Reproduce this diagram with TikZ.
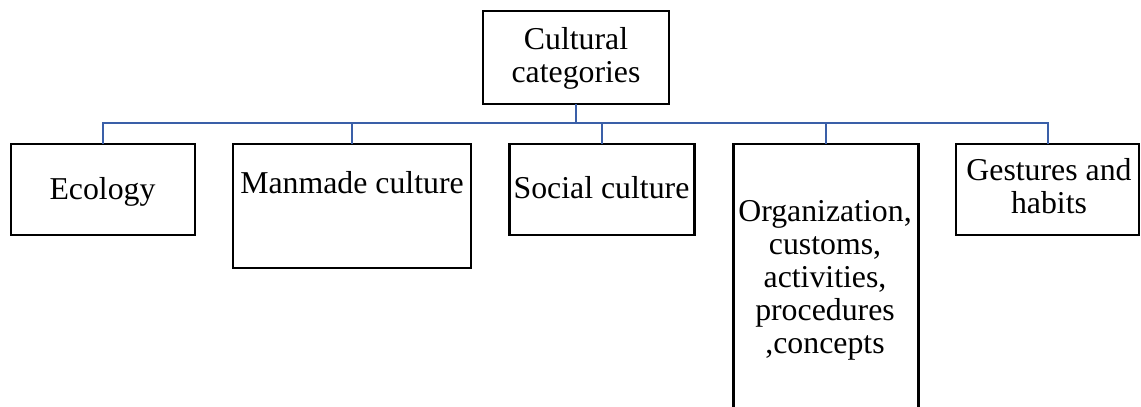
\documentclass[tikz,border=0pt]{standalone}
\usepackage{fontspec}
\setmainfont{Liberation Serif}
\definecolor{linkblue}{RGB}{58,95,168}
\begin{document}
\begin{tikzpicture}[x=0.5pt,y=-0.5pt,
  catbox/.style={draw=black,line width=1.1pt,rectangle,inner sep=0pt,outer sep=0pt},
  lbl/.style={anchor=base,inner sep=0pt,align=center,font=\fontsize{15.9pt}{16.4pt}\selectfont},
  conn/.style={draw=linkblue,line width=0.85pt},
  stem/.style={draw=linkblue,line width=1.4pt}]
\clip (0,0) rectangle (1141,407);
\fill[white] (0,0) rectangle (1141,407);
% boxes
\node[catbox,minimum width=93pt,minimum height=46.5pt] (top) at (576,57.5) {};
\node[catbox,minimum width=92pt,minimum height=45.5pt] (eco) at (103,189.3) {};
\node[catbox,minimum width=119pt,minimum height=62pt] (man) at (352.3,206) {};
\node[catbox,minimum width=92.5pt,minimum height=45.5pt] (soc) at (602,189.3) {};
\node[catbox,minimum width=92.5pt,minimum height=145pt] (org) at (826,289) {};
\node[catbox,minimum width=91.5pt,minimum height=45.5pt] (ges) at (1047.7,189.3) {};
% labels (base anchor = baseline of the last line)
\node[lbl] (ttop) at (576,82) {Cultural\\categories};
\node[lbl] (teco) at (102.5,199) {Ecology};
\node[lbl] (tman) at (352,193) {Manmade culture};
\node[lbl] (tsoc) at (601.5,198) {Social culture};
\node[lbl] (torg) at (825,353) {Organization,\\customs,\\activities,\\procedures\\,concepts};
\node[lbl] (tges) at (1049,213) {Gestures and\\habits};
% connectors
\coordinate (bus) at (576,123.3);
\draw[stem] (top.south) -- (bus);
\foreach \c in {eco,man,soc,org,ges}{
  \draw[conn] (bus) -| (\c.north);
}
\end{tikzpicture}
\end{document}
